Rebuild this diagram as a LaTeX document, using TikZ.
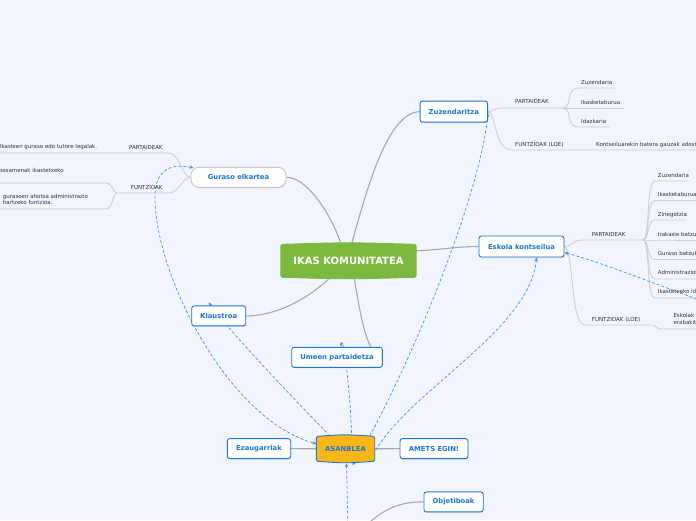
\documentclass[tikz,border=0pt]{standalone}
\usepackage{fontspec}
\newfontfamily\dejavu{DejaVu Sans}
\usetikzlibrary{arrows.meta,shadows}
\definecolor{bgblue}{RGB}{242,245,254}
\definecolor{topicblue}{RGB}{28,118,214}
\definecolor{relblue}{RGB}{64,146,232}
\definecolor{ikasgreen}{RGB}{126,185,63}
\definecolor{asanorange}{RGB}{252,182,22}
\definecolor{linegray}{RGB}{168,168,170}
\definecolor{leafgray}{RGB}{204,205,212}
\definecolor{txtgray}{RGB}{50,50,55}
\pgfdeclarelayer{bg}\pgfdeclarelayer{mid}
\pgfsetlayers{bg,mid,main}
\newcommand{\topicfont}{\dejavu\bfseries\fontsize{6.8}{8}\selectfont}
\newcommand{\leaffont}{\dejavu\fontsize{5.5}{6.6}\selectfont}
\newcommand{\bulgebox}[3]{%
  \begin{pgfonlayer}{mid}
  \filldraw[fill=#2,draw=#3,line width=.9pt,rounded corners=1.5pt]
    ([yshift=-2pt]#1.north west) .. controls (#1.north) .. ([yshift=-2pt]#1.north east)
    -- ([yshift=2pt]#1.south east) .. controls (#1.south) .. ([yshift=2pt]#1.south west) -- cycle;
  \end{pgfonlayer}}
\tikzset{
  topic/.style={draw=topicblue, line width=.9pt, fill=white, rounded corners=2.5pt,
    text=topicblue, font=\topicfont, minimum height=20pt, inner sep=0pt,
    drop shadow={shadow xshift=.5pt, shadow yshift=-1pt, opacity=.2}},
  core/.style={inner sep=0pt},
  leaf/.style={font=\leaffont, text=txtgray, inner sep=0pt, anchor=base west},
  branch/.style={draw=linegray, line width=1.1pt},
  leafline/.style={draw=leafgray, line width=.8pt},
  rel/.style={draw=relblue, line width=.7pt, dash pattern=on 3pt off 2pt}
}

\begin{document}
\begin{tikzpicture}[x=1pt,y=-1pt,>={Stealth[length=4pt,width=3.5pt]}]
  \useasboundingbox (0,0) rectangle (696,520);
  \begin{pgfonlayer}{bg}
    \fill[bgblue] (0,0) rectangle (696,520);
  \end{pgfonlayer}

  % centre and main topics
  \node[core, font=\dejavu\bfseries\fontsize{10}{12}\selectfont, text=white,
        minimum width=135pt, minimum height=36.5pt] (ikas) at (348.5,260.8) {IKAS KOMUNITATEA};
  \bulgebox{ikas}{ikasgreen}{ikasgreen}
  \node[core, font=\topicfont, text=topicblue, minimum width=58pt, minimum height=28.5pt]
        (asan) at (345.5,448.8) {ASANBLEA};
  \bulgebox{asan}{asanorange}{topicblue}

  \node[topic, minimum width=67.5pt, minimum height=21pt] (zuz) at (453.8,111.6) {Zuzendaritza};
  \node[topic, draw=black!22, rounded corners=8pt, minimum width=95pt] (gur) at (238.5,177.3) {Guraso elkartea};
  \node[topic, minimum width=85pt, minimum height=21pt] (esk) at (521.5,246.5) {Eskola kontseilua};
  \node[topic, minimum width=54pt] (kla) at (218.7,315.9) {Klaustroa};
  \node[topic, minimum width=90.6pt] (ume) at (337,357.3) {Umeen partaidetza};
  \node[topic, minimum width=63.4pt] (eza) at (259,448.6) {Ezaugarriak};
  \node[topic, minimum width=68pt] (ame) at (434,448.6) {AMETS EGIN!};
  \node[topic, minimum width=59.3pt] (obj) at (453.6,501.9) {Objetiboak};

  \coordinate (zbr) at (563,108);
  \coordinate (ebr) at (643,240);
  \coordinate (gbr) at (117,193);
  \coordinate (offbot) at (362,530);
  \coordinate (offasan) at (348,530);
  \coordinate (offright) at (705,302);

  % leaves of Zuzendaritza
  \node[leaf] (zpart) at (515,103) {PARTAIDEAK};
  \node[leaf] (zzuz) at (581,84) {Zuzendaria};
  \node[leaf] (zika) at (581,104) {Ikasketaburua};
  \node[leaf] (zida) at (581,123.3) {Idazkaria};
  \node[leaf] (zfun) at (515,146) {FUNTZIOAK (LOE)};
  \node[leaf] (zkon) at (596,146.5) {Kontseiluarekin batera gauzak adostu};

  % leaves of Eskola kontseilua
  \node[leaf] (epart) at (591.7,236) {PARTAIDEAK};
  \node[leaf] (e1) at (657.7,177) {Zuzendaria};
  \node[leaf] (e2) at (657.7,196.3) {Ikasketaburua};
  \node[leaf] (e3) at (657.7,216) {Zinegotzia};
  \node[leaf] (e4) at (657.7,236) {Irakasle batzuk};
  \node[leaf] (e5) at (657.7,255.3) {Guraso batzuk};
  \node[leaf] (e6) at (657.7,274.7) {Administrazioko langilea};
  \node[leaf] (e7) at (657.7,293.7) {Ikastetxeko idazkaria};
  \node[leaf] (efun) at (591.7,321) {FUNTZIOAK (LOE)};
  \node[leaf, anchor=north west, align=left] (efun1) at (673.3,313.6) {Eskolak hartzen\\erabakitzen ditu};

  % leaves of Guraso elkartea
  \node[leaf] (gpart) at (129,149) {PARTAIDEAK};
  \node[leaf, anchor=base east] (gpart1) at (97.3,148.7) {Ikasleen guraso edo tutore legalak.};
  \node[leaf] (gfun) at (130.7,189.3) {FUNTZIOAK};
  \node[leaf, anchor=base east] (gfun1) at (64,172) {posamenak ikastetxeko};
  \node[leaf, anchor=north west, align=left] (gfun2) at (2.7,193.8) {gurasoen ahotsa administrazio\\hartzeko funtzioa.};

  \begin{pgfonlayer}{bg}
    % branches
    \draw[branch] ([xshift=3.5pt]ikas.north) .. controls (368,185) and (388,113) .. (zuz.west);
    \draw[branch] ([xshift=-8pt]ikas.north) .. controls (330,212) and (306,177) .. (gur.east);
    \draw[branch] ([yshift=10pt]ikas.east) .. controls (440,250) and (455,246.5) .. (esk.west);
    \draw[branch] ([xshift=-20pt]ikas.south) .. controls (300,305) and (270,316) .. (kla.east);
    \draw[branch] ([xshift=6pt]ikas.south) .. controls (361,320) and (368,357) .. (ume.east);
    \draw[branch] (eza) -- (asan);
    \draw[branch] (asan) -- (ame);
    \draw[branch] (offbot) .. controls (385,505) and (405,502) .. (obj.west);

    % underlines
    \draw[leafline] (zuz.east) .. controls (493,111.5) and (493,108) .. (502,108) -- (zbr);
    \draw[leafline] (zbr) .. controls (572,108) and (566,88) .. (578,88) -- (615,88);
    \draw[leafline] (zbr) -- (624,108);
    \draw[leafline] (zbr) .. controls (572,108) and (566,127) .. (578,127) -- (610,127);
    \draw[leafline] (zuz.east) .. controls (496,112) and (494,150) .. (512,150) -- (700,150);

    \draw[leafline] (esk.east) .. controls (572,246.5) and (572,240) .. (582,240) -- (ebr);
    \foreach \y/\e in {181/688,200.5/700,220/686,240/700,259.5/700,279/700,298/700}
      \draw[leafline] (ebr) .. controls (650,240) and (646,\y) .. (655,\y) -- (\e,\y);
    \draw[leafline] (esk.east) .. controls (574,250) and (570,325) .. (585,325) -- (653,325)
      .. controls (656,325) and (656,329) .. (661,329) -- (700,329);

    \draw[leafline] (gur.west) .. controls (182,177) and (180,153) .. (168,153) -- (-5,153);
    \draw[leafline] (gur.west) .. controls (182,177) and (180,193) .. (168,193) -- (gbr);
    \draw[leafline] (gbr) .. controls (112,193) and (114,183) .. (105,183) -- (-5,183);
    \draw[leafline] (gbr) .. controls (112,193) and (114,209) .. (105,209) -- (-5,209);

    % relations
    \draw[rel,<->] ([shift={(3,1)}]gur.north west) .. controls (170,163) and (154,170) .. (155,200)
      .. controls (157,280) and (230,420) .. ([yshift=5pt]asan.west);
    \draw[rel,<-] ([shift={(-10,-3)}]kla.north) .. controls (222,322) and (280,385) .. ([xshift=-17pt]asan.north);
    \draw[rel,<-] ([xshift=4pt]ume.north) .. controls (343,330) and (351,400) .. ([xshift=6pt]asan.north);
    \draw[rel,<->] ([yshift=-1.5pt]zuz.east) .. controls (480,200) and (400,390) .. ([shift={(7,2)}]asan.south);
    \draw[rel,<-] ([xshift=15pt]esk.south) .. controls (530,330) and (410,390) .. ([yshift=-3pt]asan.east);
    \draw[rel,<-] ([yshift=-6pt]esk.east) .. controls (600,262) and (650,282) .. (offright);
    \draw[rel,<-] ([xshift=1pt]asan.south) -- (offasan);
  \end{pgfonlayer}
\end{tikzpicture}
\end{document}
